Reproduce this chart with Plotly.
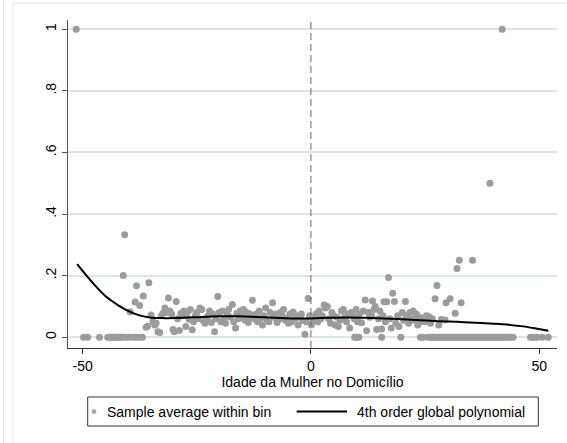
import plotly.graph_objects as go

# ---- data ----
bin_x = [
    -51.4, -49.8, -48.9, -46.3, -44.5, -44.1, -43.7, -43.3, -42.9, -42.5, -42.1, -41.7, -41.3,
    -40.6, -39.9, -39.0, -38.3, -37.5, -36.9,
    -40.8, -41.1, -38.2, -35.5, -36.7, -38.5, -37.5, -39.6, -36.1, -35.8,
    -35.0, -34.6, -34.2, -33.9, -33.5, -33.1, -32.8, -32.4, -32.0, -31.6, -31.2, -30.9, -30.5,
    -30.2, -29.9, -29.5, -29.2, -28.8, -28.5, -28.1, -27.8, -27.4, -27.1, -26.7, -26.4, -26.0,
    -25.7, -25.3, -25.0, -24.6, -24.3, -23.9, -23.6, -23.2, -22.9, -22.5, -22.2, -21.8, -21.5,
    -21.1, -20.8, -20.4, -20.1, -19.7, -19.4, -19.0, -18.7, -18.3, -18.0, -17.6, -17.2, -16.9,
    -16.5, -16.2, -15.8, -15.5, -15.1, -14.8, -14.4, -14.1, -13.7, -13.4, -13.0, -12.8, -12.4,
    -12.0, -11.7, -11.3, -11.0, -10.6, -10.3, -9.9, -9.6, -9.2, -8.9, -8.4, -8.1, -7.7, -7.4,
    -7.0, -6.7, -6.3, -6.0, -5.6, -5.3, -4.9, -4.6, -4.2, -3.9, -3.5, -3.2, -2.8, -2.5, -2.1,
    -1.8, -1.3, -1.0, -0.6, -0.3, 0.1, 0.4, 0.8, 1.1, 1.5, 1.8, 2.2, 2.5, 2.9, 3.2, 3.6, 3.9,
    4.3, 4.6, 5.0, 5.3, 5.7, 6.0, 6.4, 6.7, 7.1, 7.4, 7.8, 8.1, 8.5, 8.8, 9.2, 9.5, 9.9, 10.2,
    10.6, 11.1, 11.5, 11.9, 12.2, 12.6, 12.9, 13.3, 13.5, 13.8, 14.1, 14.4, 14.8, 15.1, 15.5,
    15.8, 16.0, 16.3, 16.6, 17.0, 17.3, 17.6, 17.9, 18.3, 18.6, 19.0, 19.3, 20.0, 20.3, 20.7,
    21.0, 21.4, 21.7, 22.0, 22.4, 22.7, 23.1, 23.4, 23.8, 24.1, 24.5, 24.9, 25.3, 25.8, 26.2,
    26.6, 27.2, 27.6, 28.0, 28.6, 29.4, 29.6, 30.5, 31.6, 32.0, 32.5, 32.9, 35.4, 39.2, 41.9,
    9.6, 10.0, 10.5, 15.5, 19.7, 24.0, 24.3, 24.6, 25.7, 26.1, 26.5, 26.9, 27.3, 27.7, 28.1,
    28.5, 28.9, 29.3, 29.7, 30.1, 30.5, 30.9, 31.3, 31.7, 32.1, 32.5, 32.9, 33.3, 33.7, 34.1,
    34.5, 34.9, 35.3, 35.7, 36.1, 36.5, 36.9, 37.3, 37.7, 38.1, 38.5, 38.9, 39.3, 39.7, 40.1,
    40.5, 40.9, 41.3, 41.7, 42.1, 42.5, 42.9, 43.3, 43.7, 44.3, 48.1, 48.6, 49.1, 49.6, 50.7, 52.0,
]
bin_y = [
    1.0, 0, 0, 0, 0, 0, 0, 0, 0, 0, 0, 0, 0,
    0, 0, 0, 0, 0, 0,
    0.333, 0.2, 0.167, 0.177, 0.134, 0.114, 0.103, 0.083, 0.032, 0.036,
    0.072, 0.05, 0.04, 0.045, 0.018, 0.015, 0.07, 0.078, 0.095, 0.08, 0.127, 0.085, 0.075,
    0.025, 0.018, 0.116, 0.06, 0.022, 0.078, 0.07, 0.085, 0.035, 0.08, 0.058, 0.09, 0.024,
    0.05, 0.07, 0.08, 0.06, 0.095, 0.09, 0.055, 0.045, 0.062, 0.07, 0.085, 0.048, 0.075,
    0.018, 0.06, 0.132, 0.08, 0.05, 0.085, 0.06, 0.045, 0.072, 0.09, 0.065, 0.106, 0.05,
    0.03, 0.078, 0.06, 0.085, 0.07, 0.09, 0.055, 0.08, 0.048, 0.075, 0.065, 0.12, 0.06,
    0.075, 0.05, 0.085, 0.062, 0.04, 0.07, 0.095, 0.055, 0.05, 0.08, 0.112, 0.065, 0.075, 0.048,
    0.058, 0.08, 0.07, 0.09, 0.055, 0.062, 0.045, 0.075, 0.05, 0.082, 0.06, 0.07, 0.04, 0.065, 0.075,
    0.055, 0.01, 0.05, 0.126, 0.07, 0.04, 0.065, 0.055, 0.075, 0.05, 0.085, 0.06, 0.07, 0.105, 0.095, 0.1, 0.06,
    0.045, 0.08, 0.07, 0.04, 0.065, 0.035, 0.055, 0.085, 0.09, 0.065, 0.05, 0.075, 0.03, 0.08, 0.07, 0.06, 0.09, 0.05,
    0.075, 0.047, 0.085, 0.121, 0.021, 0.08, 0.065, 0.07, 0.118, 0.09, 0.1, 0.025, 0.06, 0.085, 0.027,
    0.07, 0.115, 0.05, 0.115, 0.194, 0.06, 0.03, 0.143, 0.116, 0.045, 0.07, 0.035, 0.08, 0.055, 0.116,
    0.07, 0.045, 0.08, 0.06, 0.085, 0.055, 0.075, 0.04, 0.065, 0.05, 0.06, 0.05, 0.07, 0.067, 0.045,
    0.06, 0.125, 0.168, 0.04, 0.058, 0.056, 0.112, 0.125, 0.078, 0.223, 0.25, 0.112, 0.25, 0.5, 1.0,
    0, 0, 0, 0, 0, 0, 0, 0, 0, 0, 0, 0, 0, 0, 0,
    0, 0, 0, 0, 0, 0, 0, 0, 0, 0, 0, 0, 0, 0, 0,
    0, 0, 0, 0, 0, 0, 0, 0, 0, 0, 0, 0, 0, 0, 0,
    0, 0, 0, 0, 0, 0, 0, 0, 0, 0, 0, 0, 0, 0, 0, 0,
]

fit_x = [-51.2, -48, -44.9, -42, -39.7, -37.5, -35.3, -32, -28, -24, -20, -16, -12, -8, -4, 0,
         4, 8, 12, 16, 20, 24, 28, 32, 36, 40, 43, 46, 49, 52]
fit_y = [0.237, 0.18, 0.132, 0.102, 0.083, 0.071, 0.064, 0.062, 0.063, 0.066, 0.068, 0.068,
         0.066, 0.063, 0.061, 0.061, 0.063, 0.064, 0.063, 0.061, 0.058, 0.055, 0.052, 0.050,
         0.047, 0.044, 0.041, 0.036, 0.029, 0.021]

x_ticks = [-50, 0, 50]
y_ticks = [0, 0.2, 0.4, 0.6, 0.8, 1.0]
y_ticktext = ["0", ".2", ".4", ".6", ".8", "1"]

series_names = ["Sample average within bin", "4th order global polynomial"]
x_title = "Idade da Mulher no Domicílio"

FONT = "Liberation Sans, Arial, sans-serif"
FS = 14

fig = go.Figure()
fig.add_trace(go.Scatter(x=bin_x, y=bin_y, mode="markers", name=series_names[0],
                         marker=dict(color="#9c9c9c", size=7, line=dict(width=0)),
                         showlegend=False))
fig.add_trace(go.Scatter(x=fit_x, y=fit_y, mode="lines", name=series_names[1],
                         line=dict(color="black", width=2, shape="spline"),
                         showlegend=False))

# vertical dashed line at the cutoff
fig.add_shape(type="line", xref="x", yref="paper", x0=0, x1=0, y0=0, y1=1,
              line=dict(color="#666666", width=1, dash="7px,4px"), layer="above")

# plot area: 68..557 px horizontally, 20..348 px vertically
L, R, T, B = 68, 557, 20, 348
W, H = 567, 443
def px(xp):
    return (xp - L) / (R - L)
def py(yp):
    return (B - yp) / (B - T)

# faint outer frames (Stata graph region)
fig.add_shape(type="line", xref="paper", yref="paper", x0=px(3.5), x1=px(3.5), y0=py(0), y1=py(443),
              line=dict(color="#e8e8e8", width=1))
fig.add_shape(type="line", xref="paper", yref="paper", x0=px(13), x1=px(13), y0=py(3), y1=py(443),
              line=dict(color="#e2e9ec", width=1))
fig.add_shape(type="line", xref="paper", yref="paper", x0=px(13), x1=px(567), y0=py(3), y1=py(3),
              line=dict(color="#e2e9ec", width=1))

# custom legend
fig.add_shape(type="rect", xref="paper", yref="paper", x0=px(87.7), x1=px(538.3), y0=py(397), y1=py(426),
              line=dict(color="#333333", width=1), fillcolor="white")
fig.add_shape(type="circle", xref="paper", yref="paper", x0=px(91.6), x1=px(96.4), y0=py(409.2), y1=py(414),
              line=dict(width=0), fillcolor="#a8a8a8")
fig.add_shape(type="line", xref="paper", yref="paper", x0=px(296.7), x1=px(347), y0=py(411.6), y1=py(411.6),
              line=dict(color="black", width=2))
fig.add_annotation(xref="paper", yref="paper", x=px(104.5), y=py(411.6), text=series_names[0],
                   showarrow=False, xanchor="left", yanchor="middle",
                   font=dict(family=FONT, size=FS, color="black"))
fig.add_annotation(xref="paper", yref="paper", x=px(354.5), y=py(411.6), text=series_names[1],
                   showarrow=False, xanchor="left", yanchor="middle",
                   font=dict(family=FONT, size=FS, color="black"))

fig.update_layout(
    width=W, height=H,
    margin=dict(l=L, r=W - R, t=T, b=H - B, pad=0),
    paper_bgcolor="white", plot_bgcolor="white",
    font=dict(family=FONT, size=FS, color="black"),
    showlegend=False,
)
fig.update_xaxes(range=[-53.2, 53.9], tickvals=x_ticks, ticktext=[str(v) for v in x_ticks],
                 showgrid=False, zeroline=False, showline=True, linecolor="#333333", linewidth=1,
                 ticks="outside", ticklen=5, tickcolor="#333333", tickfont=dict(size=FS),
                 title=dict(text=x_title, standoff=1, font=dict(size=FS)))
fig.update_yaxes(range=[-0.035, 1.03], tickvals=y_ticks, ticktext=y_ticktext, tickangle=-90,
                 showgrid=True, gridcolor="#dbe6e9", gridwidth=1.5, zeroline=False,
                 showline=True, linecolor="#555555", linewidth=1, tickfont=dict(size=FS),
                 ticks="outside", ticklen=5, tickcolor="#555555", ticklabelstandoff=0)

fig.write_html("out.html")
